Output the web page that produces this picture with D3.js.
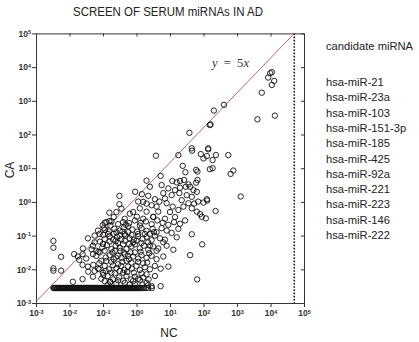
<!DOCTYPE html>
<meta charset="utf-8"/>
<title>Screen of serum miRNAs in AD</title>
<script src="https://d3js.org/d3.v7.min.js"></script>
<style>
  body { margin: 0; background: #fff; }
  text { font-family: 'Liberation Sans', Arial, sans-serif; }
</style>
<svg width=419 height=342></svg>
<script>
  // all values are log10 exponents: [log10(NC), log10(CA)]
  const tickExps = [-3, -2, -1, 0, 1, 2, 3, 4, 5];
  const candidates = ['hsa-miR-21', 'hsa-miR-23a', 'hsa-miR-103', 'hsa-miR-151-3p', 'hsa-miR-185',
    'hsa-miR-425', 'hsa-miR-92a', 'hsa-miR-221', 'hsa-miR-223', 'hsa-miR-146', 'hsa-miR-222'];
  const cutoffNC = 4.71;
  const fitNC = [-3, 4.71];
  const fitCA = [-2.96, 5];

  const upperPts = [[3.99,3.82],[4.04,3.85],[3.93,3.69],[4.11,3.59],[4.04,3.47],[3.74,3.24],[3.61,2.45],
    [4.13,2.56],[2.61,2.88],[2.31,2.71],[2.19,2.28],[2.21,2.30],[1.58,2.05],[1.65,1.59],[2.14,1.59]];

  const midPts = [[0.58,1.37],[1.25,1.39],[1.66,1.52],[2.14,1.56],[1.92,1.42],[2.10,1.36],[2.27,1.24],
    [2.37,1.39],[2.0,1.29],[2.74,1.39],[2.27,1.0],[2.19,0.97],[2.89,0.93],[2.81,0.83],[3.11,0.16],
    [2.36,-0.27],[1.38,1.07],[1.46,0.88],[1.78,0.95],[1.82,0.90],[0.72,0.77],[0.30,0.63],[0.75,0.50],
    [1.07,0.62],[1.20,0.58],[1.30,0.62],[1.42,0.65],[1.55,0.52],[1.78,0.57],[1.82,0.65],[1.47,0.45],
    [1.30,0.42],[1.70,0.35],[1.80,0.30],[-0.04,0.30],[0.16,0.23],[-0.51,0.18],[-0.51,-0.07],[0.35,0.18],
    [0.55,0.08],[0.80,0.26],[1.05,0.20],[1.28,0.26],[1.50,0.20],[1.65,0.15],[1.84,0.01],[2.0,-0.02],
    [2.10,0.08],[2.11,0.04],[0.68,0.01],[0.90,-0.04],[1.08,-0.14],[1.25,-0.24],[1.40,-0.14],[1.55,-0.04],
    [1.65,-0.19],[1.80,-0.29],[1.95,-0.44],[2.07,-0.49],[1.90,-0.36],[1.65,-0.96],[1.96,-1.26],[1.60,-1.58],
    [1.81,-2.30],[0.72,-2.50],[0.45,-2.50],[0.35,-2.47],[1.15,0.35],[1.35,0.05],[0.95,0.40],[1.6,0.45],
    [1.72,-0.05],[0.4,0.45],[0.2,0.0],[0.45,-0.1],[0.05,0.01],[0.10,-0.19],[0.30,-0.29],[0.60,-0.14],
    [0.65,-0.29],[0.50,-0.44],[0.01,-0.44],[-0.68,-0.45],[-0.6,-0.3],[-0.45,-0.2],[-0.35,-0.5],[-0.2,-0.35]];

  const corePts = [[-0.95,-0.62],[-0.75,-0.58],[-0.55,-0.66],[-0.4,-0.6],[-0.22,-0.63],[-0.05,-0.55],
    [0.12,-0.62],[0.28,-0.58],[0.45,-0.66],[0.62,-0.55],[0.78,-0.62],[0.95,-0.68],[1.12,-0.6],[1.3,-0.65],
    [1.45,-0.55],[-1.15,-0.85],[-0.98,-0.78],[-0.82,-0.88],[-0.66,-0.8],[-0.5,-0.85],[-0.38,-0.76],
    [-0.25,-0.9],[-0.12,-0.82],[0.02,-0.88],[0.15,-0.78],[0.3,-0.86],[0.48,-0.8],[0.6,-0.9],[0.75,-0.78],
    [0.9,-0.85],[1.05,-0.92],[1.25,-0.8],[-1.45,-1.08],[-1.25,-1.0],[-0.95,-1.1],[-0.8,-1.02],[-0.7,-1.12],
    [-0.58,-1.04],[-0.45,-1.1],[-0.33,-1.0],[-0.2,-1.08],[-0.08,-1.12],[0.05,-1.02],[0.18,-1.1],[0.3,-1.04],
    [0.45,-1.14],[0.55,-1.0],[0.7,-1.08],[0.85,-1.12],[1.2,-1.05],[-1.6,-1.38],[-1.3,-1.3],[-1.02,-1.35],
    [-0.88,-1.28],[-0.75,-1.4],[-0.62,-1.3],[-0.5,-1.36],[-0.4,-1.26],[-0.3,-1.4],[-0.15,-1.32],[-0.05,-1.26],
    [0.1,-1.38],[0.22,-1.3],[0.35,-1.42],[0.5,-1.32],[0.65,-1.38],[0.9,-1.3],[1.1,-1.42],[-1.75,-1.62],
    [-1.5,-1.68],[-1.2,-1.6],[-0.92,-1.65],[-0.8,-1.58],[-0.68,-1.7],[-0.56,-1.6],[-0.45,-1.66],[-0.35,-1.56],
    [-0.22,-1.7],[-0.1,-1.62],[0.05,-1.68],[0.15,-1.58],[0.3,-1.66],[0.45,-1.6],[0.6,-1.7],[0.8,-1.62],
    [-1.45,-1.92],[-1.15,-1.98],[-0.95,-1.9],[-0.82,-2.0],[-0.7,-1.88],[-0.6,-1.96],[-0.46,-1.9],[-0.36,-2.02],
    [-0.25,-1.92],[-0.14,-1.98],[0.0,-1.9],[0.1,-2.02],[0.25,-1.94],[0.4,-2.0],[0.55,-1.9],[0.72,-1.98],
    [0.95,-1.92],[-1.3,-2.22],[-1.05,-2.28],[-0.86,-2.2],[-0.7,-2.3],[-0.52,-2.24],[-0.4,-2.34],[-0.3,-2.2],
    [-0.16,-2.3],[-0.05,-2.22],[0.1,-2.32],[0.2,-2.24],[0.36,-2.3],[0.55,-2.2],[-0.62,-1.15],[-0.48,-1.45],
    [-0.3,-1.75],[-0.18,-1.5],[-0.55,-1.85],[-0.72,-1.5],[-0.4,-2.1],[-0.2,-2.45],[-0.6,-2.42],[-0.85,-2.45],
    [-0.05,-2.44],[0.18,-2.45],[-0.9,-1.75],[-0.1,-1.2],[0.05,-0.95],[-0.35,-0.95],[-0.78,-0.7],[-0.25,-0.72],
    [0.35,-1.2],[0.2,-1.82],[-0.65,-2.12],[-1.0,-2.1],[-1.2,-1.45],[0.6,-1.45],[0.8,-1.2],[0.4,-0.95],
    [-1.25,-1.2],[-1.1,-0.95],[-0.9,-0.6],[-1.3,-1.55],
    [-0.85,-0.95],[-0.6,-0.9],[-0.42,-0.88],[-0.15,-0.98],[0.1,-0.7],[0.25,-0.95],[0.52,-0.9],[-1.0,-1.25],
    [-0.8,-1.18],[-0.55,-1.22],[-0.35,-1.15],[-0.22,-1.25],[0.0,-1.15],[0.15,-1.22],[0.4,-1.3],[-1.1,-1.5],
    [-0.95,-1.45],[-0.65,-1.45],[-0.38,-1.5],[-0.25,-1.6],[-0.05,-1.5],[0.12,-1.48],[0.38,-1.52],[-1.05,-1.75],
    [-0.75,-1.78],[-0.62,-1.65],[-0.42,-1.78],[-0.15,-1.8],[0.05,-1.78],[0.32,-1.8],[-1.25,-2.05],[-0.92,-2.05],
    [-0.75,-2.1],[-0.5,-2.05],[-0.28,-2.08],[-0.08,-2.1],[0.15,-2.12],[0.3,-2.15],[-0.95,-2.35],[-0.78,-2.38],
    [-0.55,-2.33],[-0.35,-2.4],[-0.1,-2.35],[0.05,-2.28],[0.3,-2.4],[-0.5,-1.0],[-0.68,-0.95],[-0.32,-0.68],
    [0.2,-0.5],[0.5,-0.45],[0.85,-0.5],[-0.1,-0.3],[0.3,-0.05],[0.85,0.1],[1.0,-0.3],[1.15,-0.45]];

  const lowLeftPts = [[-2.48,-1.16],[-2.48,-1.36],[-2.48,-1.97],[-2.48,-2.04],[-2.25,-2.04],[-2.25,-1.63],
    [-1.90,-2.37],[-1.86,-1.55],[-1.61,-1.55],[-1.71,-1.72],[-1.61,-1.87],[-1.61,-2.29],[-1.44,-2.07],
    [-1.34,-1.41],[-1.14,-1.48],[-1.29,-1.87],[-0.81,-0.32],[-0.81,-0.57],[-1.01,-0.69],[-0.94,-0.83],
    [-0.99,-0.98],[-1.09,-1.18],[-1.11,-1.82],[-1.11,-2.0],[-0.99,-2.17],[-0.79,-2.37]];

  // detection floor row (CA at the floor value)
  const floorCA = -2.555;
  const floorNC = [-2.48,-2.46,-2.44,-2.42,-2.40,-2.375,-2.35,-2.33,-2.31,-2.29,-2.27,-2.245,-2.22,-2.20,
    -2.18,-2.155,-2.13,-2.11,-2.09,-2.065,-2.04,-2.02,-2.00,-1.975,-1.95,-1.93,-1.91,-1.885,-1.86,-1.84,
    -1.82,-1.795,-1.77,-1.75,-1.73,-1.705,-1.68,-1.66,-1.64,-1.615,-1.59,-1.57,-1.55,-1.525,-1.50,-1.48,
    -1.46,-1.435,-1.41,-1.39,-1.37,-1.345,-1.32,-1.30,-1.28,-1.255,-1.23,-1.21,-1.19,-1.165,-1.14,-1.12,
    -1.10,-1.075,-1.05,-1.03,-1.01,-0.985,-0.96,-0.94,-0.92,-0.895,-0.87,-0.85,-0.83,-0.805,-0.78,-0.76,
    -0.74,-0.715,-0.69,-0.67,-0.65,-0.625,-0.60,-0.58,-0.56,-0.535,-0.51,-0.49,-0.47,-0.445,-0.42,-0.40,
    -0.38,-0.355,-0.33,-0.31,-0.29,-0.265,-0.24,-0.22,-0.20,-0.175,-0.15,-0.13,-0.11,-0.085,-0.06,-0.04,
    -0.02,0.005,0.03,0.05,0.07,0.095,0.12,0.17,0.22,0.28,0.35,0.46];

  const pts = upperPts.concat(midPts, corePts, lowLeftPts, floorNC.map(v => [v, floorCA]))
    .map(d => [Math.pow(10, d[0]), Math.pow(10, d[1])]);

  const svg = d3.select('svg');
  const x = d3.scaleLog().domain([1e-3, 1e5]).range([36, 304]);
  const y = d3.scaleLog().domain([1e-3, 1e5]).range([303, 33.4]);
  const tv = tickExps.map(e => Math.pow(10, e));

  function supLabels(sel) {
    sel.selectAll('.tick text').each(function (d) {
      const t = d3.select(this).text('10');
      t.append('tspan').attr('dy', '-0.45em').style('font-size', '5.5px').text(Math.round(Math.log10(d)));
    });
  }

  const gx = svg.append('g').attr('transform', 'translate(0,303)')
    .call(d3.axisBottom(x).tickValues(tv).tickSize(4).tickSizeOuter(0).tickPadding(3));
  gx.call(supLabels);
  const gy = svg.append('g').attr('transform', 'translate(36,0)')
    .call(d3.axisLeft(y).tickValues(tv).tickSize(4).tickSizeOuter(0).tickPadding(1));
  gy.call(supLabels);
  svg.append('g').attr('transform', 'translate(0,33.4)')
    .call(d3.axisTop(x).tickValues(tv).tickSize(-3).tickSizeOuter(0).tickFormat(''));
  svg.append('g').attr('transform', 'translate(304,0)')
    .call(d3.axisRight(y).tickValues(tv).tickSize(-3).tickSizeOuter(0).tickFormat(''));
  svg.selectAll('.domain, .tick line').attr('stroke', '#333');
  svg.selectAll('.tick text').attr('fill', '#333').style('font-size', '8.5px').style('font-weight', 'bold')
    .style('font-family', "'Liberation Sans Narrow', 'Liberation Sans', Arial");

  // cutoff and y = 5x line
  svg.append('line')
    .attr('x1', x(Math.pow(10, cutoffNC))).attr('x2', x(Math.pow(10, cutoffNC)))
    .attr('y1', y(1e5)).attr('y2', y(1e-3))
    .attr('stroke', '#111').attr('stroke-width', 1.6).attr('stroke-dasharray', '1.6,1.6');
  svg.append('line')
    .attr('x1', x(Math.pow(10, fitNC[0]))).attr('y1', y(Math.pow(10, fitCA[0])))
    .attr('x2', x(Math.pow(10, fitNC[1]))).attr('y2', y(Math.pow(10, fitCA[1])))
    .attr('stroke', '#b26a62').attr('stroke-width', 1);

  svg.append('g').selectAll('circle').data(pts).enter().append('circle')
    .attr('cx', d => x(d[0])).attr('cy', d => y(d[1])).attr('r', 2.7)
    .attr('fill', 'none').attr('stroke', '#111').attr('stroke-width', 0.9);

  const eq = svg.append('text').attr('x', 212).attr('y', 67)
    .style('font-family', "'Liberation Serif', 'DejaVu Serif', serif").style('font-size', '12.5px').attr('fill', '#333');
  eq.append('tspan').style('font-style', 'italic').text('y');
  eq.append('tspan').text('\u2002=\u20025');
  eq.append('tspan').style('font-style', 'italic').text('x');

  svg.append('text').attr('x', 168).attr('y', 16).attr('text-anchor', 'middle')
    .style('font-size', '12px').attr('textLength', 190).attr('lengthAdjust', 'spacingAndGlyphs')
    .attr('fill', '#222').text('SCREEN OF SERUM miRNAs IN AD');
  svg.append('text').attr('x', 169).attr('y', 337).attr('text-anchor', 'middle')
    .style('font-size', '12px').attr('fill', '#222').text('NC');
  svg.append('text').attr('transform', 'translate(14,170) rotate(-90)').attr('text-anchor', 'middle')
    .style('font-size', '12px').attr('fill', '#222').text('CA');

  svg.append('text').attr('x', 326).attr('y', 50).style('font-size', '11.2px').attr('fill', '#222')
    .text('candidate miRNA');
  svg.append('g').selectAll('text').data(candidates).enter().append('text')
    .attr('x', 326).attr('y', (d, i) => 86 + i * 15.3)
    .style('font-size', '11.2px').attr('fill', '#222').text(d => d);
</script>
